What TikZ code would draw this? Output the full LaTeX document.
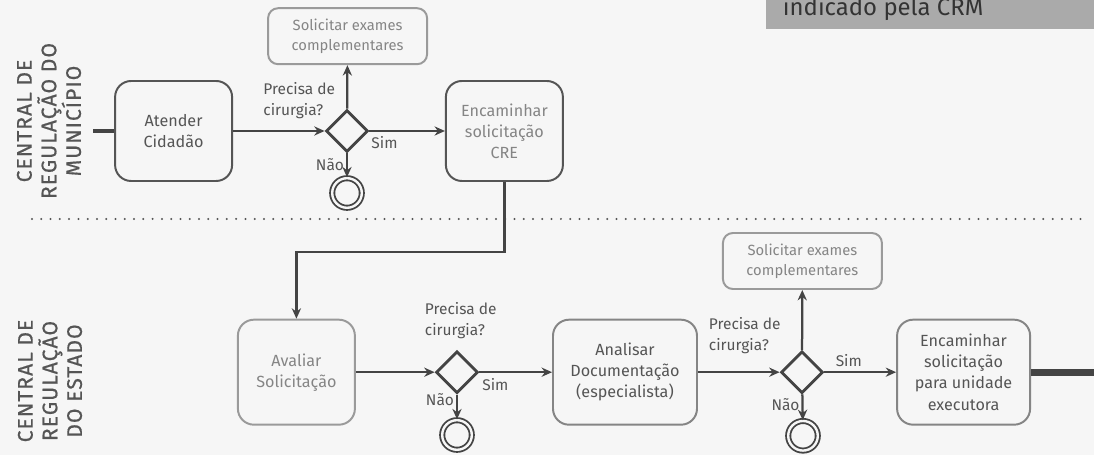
\documentclass[tikz,border=0pt]{standalone}
\usepackage{fontspec}
\setmainfont{Fira Sans}
\newfontfamily\lanefont[LetterSpace=5, FakeBold=0.6]{Fira Sans}
\usetikzlibrary{shapes,arrows}
\usetikzlibrary{arrows.meta}
\definecolor{bg}{HTML}{F6F6F6}
\definecolor{ink}{HTML}{444444}
\definecolor{dk}{HTML}{555555}
\definecolor{md}{HTML}{858585}
\definecolor{lt}{HTML}{9A9A9A}
\definecolor{notegray}{HTML}{AAAAAA}
\tikzstyle{line} = [draw=ink, line width=1.6pt, -{Stealth[length=2.6mm, width=2.3mm]}]
\tikzstyle{task} = [draw=dk, line width=1.4pt, rounded corners=0.4cm, align=center, text=dk, minimum width=2.925cm, minimum height=2.5cm, font=\fontsize{11.5}{15}\selectfont]
\tikzstyle{extra} = [task, draw=lt, text=md, rounded corners=0.25cm, minimum width=3.975cm, minimum height=1.4cm, font=\fontsize{10.5}{14}\selectfont]
\tikzstyle{gate} = [diamond, draw=ink, line width=2pt, fill=bg, aspect=1, inner sep=0, minimum size=1.05cm]
\tikzstyle{stop} = [circle, draw=ink, line width=1.3pt, double=bg, double distance=1.7pt, minimum size=0.74cm, inner sep=0]
\tikzstyle{lbl} = [text=dk, align=left, font=\fontsize{11}{15}\selectfont]
\tikzstyle{lane} = [rotate=90, align=center, text=dk, font=\lanefont\fontsize{15}{17.5}\selectfont]

\begin{document}
\begin{tikzpicture}
    \useasboundingbox (0,0) rectangle (27.35,11.375);
    \fill[bg] (0,0) rectangle (27.35,11.375);

    % note in the corner
    \fill[notegray] (19.15,10.64) rectangle (27.4,11.5);
    \node[anchor=base west, text=black!80, font=\fontsize{17}{20}\selectfont] (note) at (19.45, 10.975) {indicado pela CRM};

    % lanes
    \node[lane] (lane1) at (1.225, 8.35) {CENTRAL DE\\REGULAÇÃO DO\\MUNICÍPIO};
    \node[lane] (lane2) at (1.25, 1.85) {CENTRAL DE\\REGULAÇÃO\\DO ESTADO};
    \coordinate (d1) at (0.8, 5.9);
    \coordinate (d2) at (27.1, 5.9);
    \draw[dk, line width=1.6pt, line cap=round, dash pattern=on 0pt off 6.6pt] (d1) -- (d2);

    % municipio
    \coordinate (s) at (2.325, 8.1);
    \node[task] (atd) at (4.34, 8.1) {Atender\\Cidadão};
    \node[extra] (sol1) at (8.69, 10.47) {Solicitar exames\\complementares};
    \node[gate] (g1) at (8.675, 8.1) {};
    \node[stop] (end1) at (8.675, 6.55) {};
    \node[task, text=md] (enc1) at (12.61, 8.1) {Encaminhar\\solicitação\\CRE};
    \node[lbl, anchor=east] (q1) at (8.5, 8.85) {Precisa de\\cirurgia?};

    % estado
    \node[task, draw=lt, text=md, minimum height=2.625cm] (ava) at (7.41, 2.07) {Avaliar\\Solicitação};
    \node[gate] (g2) at (11.425, 2.07) {};
    \node[stop] (end2) at (11.425, 0.5) {};
    \node[lbl, anchor=west] (q2) at (10.5, 3.35) {Precisa de\\cirurgia?};
    \node[task, draw=md, minimum width=3.6cm, minimum height=2.625cm] (ana) at (15.625, 2.07) {Analisar\\Documentação\\(especialista)};
    \node[gate] (g3) at (20.05, 2.07) {};
    \node[extra] (sol2) at (20.06, 4.85) {Solicitar exames\\complementares};
    \node[stop] (end3) at (20.075, 0.48) {};
    \node[lbl, anchor=west] (q3) at (17.6, 2.975) {Precisa de\\cirurgia?};
    \node[task, draw=md, minimum width=3.325cm, minimum height=2.625cm] (enc2) at (24.09, 2.07) {Encaminhar\\solicitação\\para unidade\\executora};
    \coordinate (e) at (27.35, 2.07);
    \coordinate (k) at (12.61, 5.075);

    \draw[ink, line width=3.5pt] (s) -- (atd);
    \path [line] (atd) -- (g1);
    \path [line] (g1) -- (sol1);
    \path [line] (g1) -- (end1) node [lbl, pos=0.45, left, xshift=2pt] (n1) {Não};
    \path [line] (g1) -- (enc1) node [lbl, pos=0.2, below] (y1) {Sim};
    \path [line] (enc1) -- (k) -| (ava);

    \path [line] (ava) -- (g2);
    \path [line] (g2) -- (end2) node [lbl, pos=0.2, left, xshift=2pt] (n2) {Não};
    \path [line] (g2) -- (ana) node [lbl, pos=0.22, below] (y2) {Sim};
    \path [line] (ana) -- (g3);
    \path [line] (g3) -- (sol2);
    \path [line] (g3) -- (end3) node [lbl, pos=0.4, left, xshift=2pt] (n3) {Não};
    \path [line] (g3) -- (enc2) node [lbl, pos=0.34, above] (y3) {Sim};
    \draw[ink, line width=5pt] (enc2) -- (e);

  \end{tikzpicture}
\end{document}
